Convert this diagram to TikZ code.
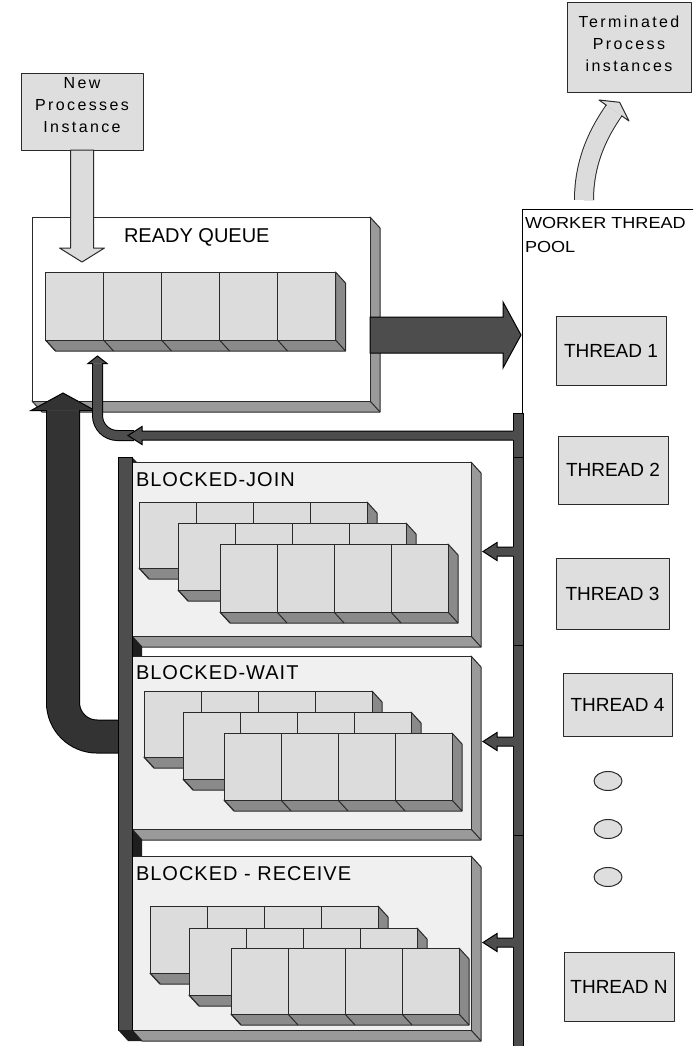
\documentclass[tikz,border=0pt]{standalone}
\usepackage{fontspec}
\usepackage{graphicx}
\setmainfont{Liberation Sans}
\newfontfamily\trackedsans[LetterSpace=15]{Liberation Sans}
\newfontfamily\slightsans[LetterSpace=5]{Liberation Sans}
\usetikzlibrary{shapes.geometric}

\definecolor{cellface}{HTML}{DCDCDC}
\definecolor{cellside}{HTML}{8A8A8A}
\definecolor{boxside}{HTML}{9A9A9A}
\definecolor{panelfill}{HTML}{F0F0F0}
\definecolor{threadfill}{HTML}{DEDEDE}
\definecolor{edge}{HTML}{2A2A2A}
\definecolor{busgrey}{HTML}{4D4D4D}
\definecolor{heavy}{HTML}{333333}
\definecolor{gapdark}{HTML}{1E1E1E}
\definecolor{lightarrow}{HTML}{DCDCDC}

\tikzset{
  every node/.style={inner sep=0pt, outer sep=0pt},
  outline/.style={draw=edge, line width=1pt, line join=round},
  cell/.style={outline, fill=cellface, anchor=north west},
  extrusion/.style={outline, fill=cellside},
  panelside/.style={outline, fill=boxside},
  threadbox/.style={outline, fill=threadfill, anchor=north west, font=\fontsize{19}{22}\selectfont},
  dotnode/.style={ellipse, outline, fill=threadfill, minimum width=28pt, minimum height=19pt},
  labeltext/.style={anchor=base west, font=\slightsans\fontsize{20}{24}\selectfont},
  boxtext/.style={anchor=north, align=center, font=\trackedsans\fontsize{16}{22}\selectfont},
  pipe/.style={fill=busgrey, draw=black, line width=1pt, line join=miter},
  greyarrow/.style={fill=lightarrow, draw=edge, line width=1pt, line join=round},
}

% a row of queue cells with its 3D extrusion: prefix, x, y, cells, cell width, height
\newcommand{\queuerow}[6]{%
  \pgfmathsetmacro{\qxr}{#2+#4*#5}%
  \pgfmathsetmacro{\qyb}{#3+#6}%
  \path[extrusion] (\qxr,#3) -- ++(10,11) -- ++(0,#6) -- ({#2+10},{\qyb+11}) -- (#2,\qyb) -- (\qxr,\qyb) -- cycle;
  \draw[edge, line width=1pt] (\qxr,\qyb) -- ++(10,11);
  \foreach \k in {1,...,#4}{%
    \node[cell, minimum width=#5pt, minimum height=#6pt] (#1-\k) at ({#2+(\k-1)*#5},#3) {};
    \draw[edge, line width=1pt] (#1-\k.south west) -- ++(10,11);
  }%
}

% a framed panel with its 3D extrusion: name, x, y, width, height, fill
\newcommand{\solidpanel}[6]{%
  \pgfmathsetmacro{\pxr}{#2+#4}%
  \pgfmathsetmacro{\pyb}{#3+#5}%
  \path[panelside] (\pxr,#3) -- ++(10,11) -- ++(0,#5) -- ({#2+10},{\pyb+11}) -- (#2,\pyb) -- (\pxr,\pyb) -- cycle;
  \draw[edge, line width=1pt] (\pxr,\pyb) -- ++(10,11);
  \node[outline, fill=#6, anchor=north west, minimum width=#4pt, minimum height=#5pt] (#1) at (#2,#3) {};
}

\begin{document}
\begin{tikzpicture}[x=1pt,y=-1pt]
\useasboundingbox (0,0) rectangle (693,1046);
\clip (0,0) rectangle (693,1046);
\fill[white] (0,0) rectangle (693,1046);

% worker thread pool
\node[draw=black, line width=1pt, fill=white, anchor=north west, minimum width=200pt, minimum height=860pt] (pool) at (522,209) {};
\node[anchor=north west, align=left, font=\fontsize{16}{24}\selectfont] (poollabel) at (525,217.5)
  {\scalebox{1.13}[1]{WORKER THREAD}\\\scalebox{1.13}[1]{POOL}};

% source and sink boxes
\node[outline, fill=threadfill, anchor=north west, minimum width=124pt, minimum height=90pt] (term) at (567,3) {};
\node[boxtext] (termtext) at (629,16) {Terminated\\Process\\instances};
\node[outline, fill=threadfill, anchor=north west, minimum width=122pt, minimum height=76pt] (newbox) at (21,74) {};
\node[boxtext] (newtext) at (82,77) {New\\Processes\\Instance};

% ready queue
\solidpanel{ready}{32}{217}{338}{184}{white}
\node[labeltext, font=\fontsize{20}{24}\selectfont] (readylabel) at (124,242) {READY QUEUE};
\queuerow{rq}{45.5}{272}{5}{58}{68}

% new instances enter the ready queue
\path[greyarrow] (newbox.south) ++(-11.5,0) -- ++(23,0) -- ++(0,98) -- ++(11,0) -- ++(-22.5,14)
  -- ++(-22.5,-14) -- ++(11,0) -- cycle;

% ready queue feeds the worker threads
\path[pipe] (ready.north east) ++(0,100) -- ++(133,0) -- ++(0,-15) -- ++(18,33) -- ++(-18,33)
  -- ++(0,-15) -- ++(-133,0) -- cycle;

% blocked queues
\solidpanel{join}{132}{462}{339}{174}{panelfill}
\node[labeltext] (joinlabel) at (136,486) {BLOCKED-JOIN};
\queuerow{jA}{139}{502}{4}{57}{66}
\queuerow{jB}{178}{523}{4}{57}{67}
\queuerow{jC}{220}{544}{4}{57}{68}

\solidpanel{wait}{132}{656}{339}{173}{panelfill}
\node[labeltext] (waitlabel) at (136,679) {BLOCKED-WAIT};
\queuerow{wA}{144}{691}{4}{57}{66}
\queuerow{wB}{183}{712}{4}{57}{67}
\queuerow{wC}{224}{733}{4}{57}{67}

\solidpanel{recv}{132}{856}{339}{174}{panelfill}
\node[labeltext] (recvlabel) at (136,880) {BLOCKED - RECEIVE};
\queuerow{rA}{150}{906}{4}{57}{67}
\queuerow{rB}{189}{928}{4}{57}{67}
\queuerow{rC}{231}{948}{4}{57}{66}

% return path from the blocked queues to the ready queue
\coordinate (retfoot) at (120,736.5);
\coordinate (retbend) at (63,736.5);
\coordinate (rethead) at (63,410.5);
\draw[line width=34pt, black, rounded corners=34pt] (retfoot) -- (retbend) -- (rethead);
\draw[line width=32pt, heavy, rounded corners=34pt] (retfoot) -- (retbend) -- (rethead);
\fill[heavy] (31,410.5) -- (63,393) -- (95,410.5) -- cycle;
\draw[black, line width=1pt, line join=miter] (47,410.5) -- (31,410.5) -- (63,393) -- (95,410.5) -- (79,410.5);

% collecting bar on the left of the blocked queues
\fill[gapdark] (132,457) -- (137,462) -- (132,462) -- cycle;
\fill[gapdark] (132,636) -- (142,647) -- (142,656) -- (132,656) -- cycle;
\fill[gapdark] (132,829) -- (142,840) -- (142,856) -- (132,856) -- cycle;
\node[pipe, anchor=north west, minimum width=14pt, minimum height=573pt] (bar) at (118,457) {};
\fill[gapdark] (118,1030) -- (132,1030) -- (142,1041) -- (128,1041) -- cycle;

% bus branch back to the ready queue
\coordinate (rqturn) at (134,435.5);
\coordinate (rqcorner) at (97.5,435.5);
\coordinate (rqhead) at (97.5,363.5);
\draw[line width=11pt, black, rounded corners=20pt] (rqturn) -- (rqcorner) -- (rqhead);
\draw[line width=9pt, busgrey, rounded corners=20pt] (rqturn) -- (rqcorner) -- (rqhead);
\fill[busgrey] (88,363.5) -- (97.5,356) -- (107,363.5) -- cycle;
\draw[black, line width=1pt, line join=miter] (93,363.5) -- (88,363.5) -- (97.5,356) -- (107,363.5) -- (102,363.5);
\path[pipe] (518,431) -- (142,431) -- (142,426.5) -- (128,435.5) -- (142,444.5) -- (142,440) -- (518,440) -- cycle;

% bus branches into the blocked queues
\foreach \yy in {551.5,741.5,942.5}{
  \path[pipe] (518,{\yy-4.5}) -- (497,{\yy-4.5}) -- (497,{\yy-9}) -- (483,\yy) -- (497,{\yy+9})
    -- (497,{\yy+4.5}) -- (518,{\yy+4.5}) -- cycle;
}

% thread pool bus
\fill[busgrey] (513,413) rectangle (523,1050);
\draw[black, line width=1pt] (513,413) -- (523,413) -- (523,1050);
\draw[black, line width=1pt] (513,413) -- (513,431) (513,440) -- (513,547) (513,556) -- (513,737)
  (513,746) -- (513,938) (513,947) -- (513,1050);
\draw[black, line width=0.8pt] (513,457) -- (523,457) (513,645) -- (523,645) (513,835) -- (523,835);

% worker threads
\node[threadbox, minimum width=110pt, minimum height=69pt] (t1) at (556,316) {THREAD 1};
\node[threadbox, minimum width=110pt, minimum height=68pt] (t2) at (558,436) {THREAD 2};
\node[threadbox, minimum width=113pt, minimum height=71pt] (t3) at (556,558) {THREAD 3};
\node[threadbox, minimum width=109pt, minimum height=63pt] (t4) at (563,673) {THREAD 4};
\node[dotnode] (d1) at (608,781) {};
\node[dotnode] (d2) at (608,829) {};
\node[dotnode] (d3) at (608,877) {};
\node[threadbox, minimum width=110pt, minimum height=69pt] (tn) at (564,952) {THREAD N};

% finished instances leave the pool
\coordinate (termfoot) at (584,200);
\coordinate (termhead) at (614,110.5);
\draw[line width=20pt, edge] (termfoot) .. controls (584,160) and (599.75,131) .. (termhead);
\draw[line width=18pt, lightarrow] (termfoot) .. controls (584,160) and (599.75,131) .. (termhead);
\fill[lightarrow] (599,100) -- (619.7,102.3) -- (629,121) -- cycle;
\draw[edge, line width=1pt, line join=round] (606.6,105.4) -- (599,100) -- (619.7,102.3) -- (629,121) -- (621.4,115.6);
\end{tikzpicture}
\end{document}
